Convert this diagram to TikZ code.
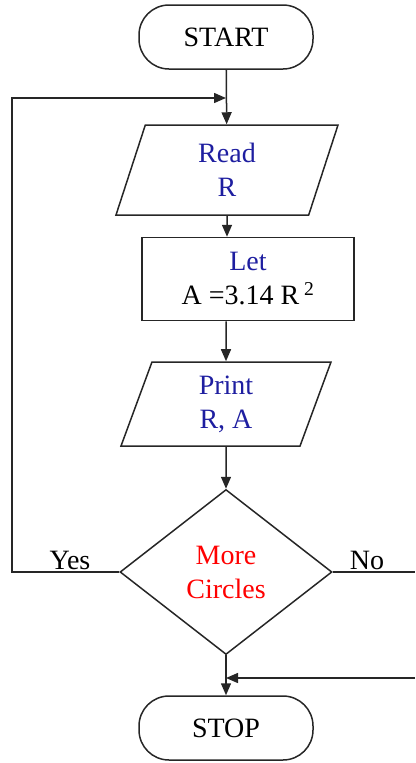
\documentclass[tikz,border=0pt]{standalone}
\usepackage{fontspec}
\setmainfont{Liberation Serif}
\usetikzlibrary{shapes.geometric,arrows.meta}
\definecolor{flowblue}{RGB}{30,30,160}
\tikzset{
    >={Triangle[length=12pt,width=10pt]},
    every edge/.style={draw,->}
}

\begin{document}
\begin{tikzpicture}[x=1pt,y=-1pt,line width=1.5pt,draw=black!85,
                    font=\fontsize{28}{34}\selectfont,
                    terminal/.style={rectangle,rounded corners=30pt,draw,minimum width=174pt,minimum height=64pt},
                    io/.style={trapezium,trapezium left angle=64,trapezium right angle=116,
                               trapezium stretches body,draw,align=center,text=flowblue},
                    process/.style={rectangle,draw,align=center,minimum width=212pt,minimum height=83pt},
                    decision/.style={diamond,draw,align=center,minimum width=212pt,minimum height=165pt,
                                     inner sep=0pt,text=red}]

\useasboundingbox (0,0) rectangle (415,763);

% Blocks
\node[terminal] (start) at (226,37) {START};
\node[io,minimum width=222pt,minimum height=90pt] (read) at (227,170) {Read\\R};
\node[process] (let) at (248,279) {\textcolor{flowblue}{Let}\\A =3.14 R\,\textsuperscript{2}};
\node[io,minimum width=210pt,minimum height=84pt] (print) at (226,404) {Print\\R, A};
\node[decision] (more) at (226,572) {More\\Circles};
\node[terminal] (stop) at (226,728) {STOP};

% Labels
\node (yes) at (70,560) {Yes};
\node (no) at (367,560) {No};

% Free ends
\coordinate (loopbot) at (12,572);
\coordinate (looptop) at (12,98);
\coordinate (join) at (226,98);
\coordinate (noend) at (415,572);
\coordinate (retin) at (415,678);
\coordinate (merge) at (226,678);

% Connectors
\path (start) edge (read);
\path (read) edge (read.south |- let.north);
\path (print.north |- let.south) edge (print);
\path (print) edge (more);
\path (more) edge (stop);
\draw[->] (more.west) -- (loopbot) -- (looptop) -- (join);
\draw (more.east) -- (noend);
\draw[->] (retin) -- (merge);

\end{tikzpicture}
\end{document}
